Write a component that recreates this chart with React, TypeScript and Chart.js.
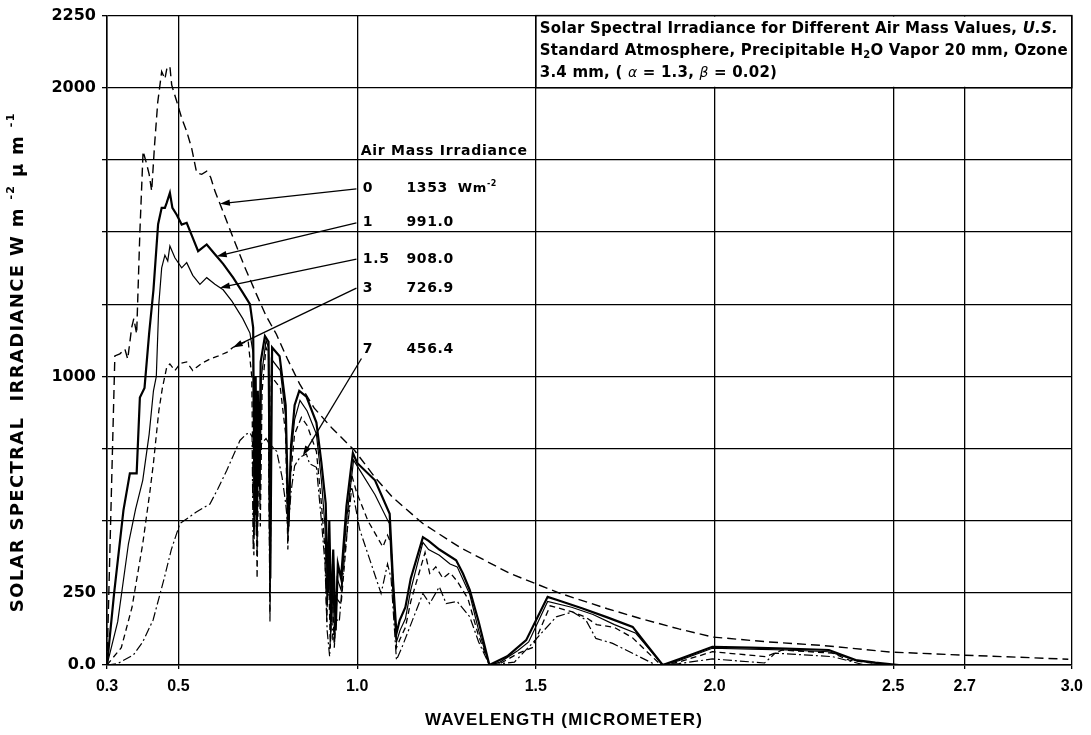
import React, { useEffect, useRef } from "react";
import { Chart, registerables } from "chart.js";

Chart.register(...registerables);

type Pt = [number, number];

// Wavelength (µm) / spectral irradiance (W m^-2 µm^-1) pairs for each air mass
const AM0: Pt[] = [
  [0.3, 0], [0.322, 1071], [0.336, 1078], [0.35, 1095], [0.358, 1060], [0.369, 1169],
  [0.375, 1200], [0.383, 1147], [0.392, 1500], [0.401, 1780], [0.41, 1740], [0.418, 1700],
  [0.425, 1642], [0.433, 1800], [0.442, 1950], [0.453, 2056], [0.462, 2030], [0.468, 2070],
  [0.476, 2074], [0.481, 2010], [0.495, 1953], [0.509, 1895], [0.523, 1849], [0.537, 1790],
  [0.551, 1705], [0.565, 1700], [0.579, 1711], [0.59, 1690], [0.602, 1642], [0.625, 1570],
  [0.653, 1480], [0.685, 1380], [0.718, 1285], [0.745, 1210], [0.774, 1146], [0.805, 1060],
  [0.839, 974], [0.88, 890], [0.93, 820], [0.993, 743], [1.05, 650], [1.1, 580],
  [1.183, 491], [1.287, 408], [1.426, 318], [1.566, 249], [1.7, 195], [1.79, 162],
  [1.9, 125], [1.994, 97], [2.15, 80], [2.3, 68], [2.49, 45], [2.7, 34], [2.85, 27], [2.99, 20],
];

const AM1: Pt[] = [
  [0.3, 0], [0.32, 250], [0.346, 536], [0.364, 664], [0.383, 664], [0.392, 927], [0.405, 960],
  [0.418, 1150], [0.43, 1300], [0.443, 1527], [0.453, 1584], [0.462, 1584], [0.467, 1601],
  [0.476, 1636], [0.483, 1584], [0.495, 1560], [0.509, 1526], [0.523, 1532], [0.54, 1480],
  [0.555, 1434], [0.579, 1457], [0.602, 1423], [0.625, 1390], [0.653, 1342], [0.68, 1290],
  [0.7, 1250], [0.709, 1169], [0.713, 520], [0.716, 1000], [0.719, 450], [0.722, 950],
  [0.726, 620], [0.73, 1050], [0.742, 1140], [0.752, 1120], [0.757, 300], [0.762, 1100],
  [0.783, 1070], [0.8, 900], [0.808, 480], [0.815, 760], [0.825, 900], [0.838, 950],
  [0.858, 930], [0.886, 840], [0.9, 700], [0.912, 560], [0.918, 250], [0.922, 500],
  [0.928, 150], [0.933, 400], [0.94, 120], [0.946, 350], [0.955, 300], [0.97, 550],
  [0.988, 735], [1.0, 700], [1.05, 640], [1.091, 524], [1.1, 300], [1.11, 109], [1.119, 155],
  [1.135, 200], [1.15, 300], [1.184, 443], [1.2, 430], [1.23, 400], [1.277, 363], [1.296, 317],
  [1.315, 260], [1.34, 150], [1.37, 0], [1.42, 30], [1.473, 86], [1.533, 236], [1.56, 225],
  [1.631, 196], [1.7, 165], [1.771, 132], [1.81, 70], [1.855, 0], [1.9, 20], [1.994, 63],
  [2.1, 60], [2.2, 57], [2.32, 52], [2.395, 17], [2.45, 8], [2.516, 0], [3.0, 0],
];

const AM15: Pt[] = [
  [0.3, 0], [0.33, 150], [0.36, 420], [0.38, 540], [0.4, 640], [0.418, 800], [0.43, 950],
  [0.438, 1000], [0.445, 1250], [0.453, 1376], [0.462, 1420], [0.47, 1400], [0.476, 1452],
  [0.49, 1411], [0.509, 1376], [0.523, 1394], [0.54, 1350], [0.56, 1319], [0.579, 1342],
  [0.602, 1319], [0.625, 1300], [0.65, 1260], [0.68, 1200], [0.7, 1150], [0.709, 1080],
  [0.712, 450], [0.716, 950], [0.72, 380], [0.724, 880], [0.728, 560], [0.732, 1000],
  [0.745, 1125], [0.752, 1100], [0.756, 240], [0.76, 1060], [0.785, 1020], [0.8, 860],
  [0.806, 430], [0.814, 720], [0.825, 850], [0.84, 917], [0.86, 880], [0.886, 800],
  [0.9, 640], [0.91, 480], [0.916, 200], [0.921, 420], [0.926, 90], [0.931, 350],
  [0.937, 80], [0.944, 300], [0.955, 260], [0.97, 500], [0.99, 710], [1.0, 690], [1.05, 590],
  [1.09, 490], [1.1, 250], [1.11, 80], [1.12, 120], [1.135, 160], [1.15, 260], [1.184, 425],
  [1.2, 400], [1.23, 380], [1.26, 350], [1.28, 340], [1.315, 245], [1.34, 120], [1.37, 0],
  [1.4, 10], [1.45, 50], [1.48, 80], [1.533, 220], [1.6, 200], [1.66, 175], [1.72, 140],
  [1.78, 110], [1.855, 0], [1.9, 15], [1.994, 58], [2.1, 55], [2.2, 52], [2.32, 46],
  [2.4, 15], [2.49, 0], [3.0, 0],
];

const AM3: Pt[] = [
  [0.3, 0], [0.34, 60], [0.37, 200], [0.4, 420], [0.42, 600], [0.43, 700], [0.445, 880],
  [0.455, 960], [0.467, 1031], [0.476, 1043], [0.49, 1020], [0.505, 1045], [0.523, 1050],
  [0.54, 1020], [0.55, 1031], [0.565, 1045], [0.588, 1060], [0.61, 1070], [0.635, 1083],
  [0.652, 1100], [0.672, 1112], [0.695, 1123], [0.705, 1000], [0.711, 380], [0.716, 850],
  [0.72, 300], [0.725, 780], [0.729, 480], [0.734, 950], [0.745, 1100], [0.752, 1080],
  [0.756, 180], [0.76, 1000], [0.785, 960], [0.8, 800], [0.806, 400], [0.813, 650],
  [0.825, 800], [0.844, 858], [0.86, 830], [0.886, 740], [0.9, 560], [0.91, 400],
  [0.915, 150], [0.92, 330], [0.925, 60], [0.93, 280], [0.936, 60], [0.943, 230],
  [0.955, 210], [0.97, 430], [0.984, 662], [0.998, 600], [1.03, 500], [1.072, 409],
  [1.085, 450], [1.095, 420], [1.105, 180], [1.11, 60], [1.12, 90], [1.135, 130], [1.15, 220],
  [1.19, 390], [1.203, 317], [1.22, 340], [1.24, 300], [1.26, 320], [1.28, 290], [1.31, 230],
  [1.34, 100], [1.37, 0], [1.4, 5], [1.45, 40], [1.49, 60], [1.54, 205], [1.6, 185],
  [1.64, 165], [1.67, 140], [1.72, 130], [1.77, 95], [1.85, 0], [1.9, 10], [1.994, 46],
  [2.143, 29], [2.19, 52], [2.33, 41], [2.377, 17], [2.48, 0], [3.0, 0],
];

const AM7: Pt[] = [
  [0.3, 0], [0.33, 5], [0.374, 35], [0.4, 80], [0.429, 156], [0.46, 300], [0.48, 400],
  [0.504, 490], [0.55, 530], [0.588, 558], [0.61, 610], [0.635, 674], [0.672, 778],
  [0.69, 800], [0.7, 805], [0.706, 790], [0.709, 397], [0.714, 700], [0.718, 478],
  [0.722, 680], [0.728, 760], [0.745, 785], [0.752, 770], [0.756, 150], [0.76, 760],
  [0.775, 740], [0.79, 650], [0.8, 560], [0.807, 467], [0.815, 600], [0.825, 690],
  [0.84, 720], [0.858, 731], [0.867, 697], [0.886, 685], [0.9, 500], [0.91, 350],
  [0.916, 120], [0.923, 29], [0.928, 200], [0.932, 86], [0.94, 160], [0.95, 150],
  [0.965, 380], [0.985, 617], [1.007, 470], [1.067, 248], [1.085, 350], [1.095, 300],
  [1.11, 17], [1.125, 60], [1.15, 140], [1.184, 248], [1.203, 213], [1.23, 271],
  [1.249, 213], [1.28, 220], [1.315, 167], [1.34, 80], [1.37, 0], [1.44, 10], [1.49, 75],
  [1.557, 167], [1.603, 184], [1.64, 156], [1.668, 92], [1.715, 75], [1.836, 0], [1.9, 5],
  [1.994, 21], [2.14, 7], [2.17, 41], [2.33, 29], [2.42, 0], [3.0, 0],
];

const X_TICKS = [0.3, 0.5, 1.0, 1.5, 2.0, 2.5, 2.7, 3.0];
const Y_LABELED_TICKS = [0, 250, 1000, 2000, 2250];

// Air-mass table: labels, stated irradiance, row height and where each leader arrow lands
const AIR_MASS_LABELS = ["0", "1", "1.5", "3", "7"];
const IRRADIANCE_LABELS = ["1353", "991.0", "908.0", "726.9", "456.4"];
const ROW_Y = [1650, 1532, 1406, 1306, 1095];
const LEADER_START_Y = [1650, 1532, 1406, 1306, 1062];
const LEADER_START_X = [0.998, 0.998, 0.998, 0.998, 1.012];
const ARROW_TIP_X = [0.616, 0.607, 0.616, 0.652, 0.848];

const DV = '"DejaVu Sans", "Liberation Sans", Arial, sans-serif';
const SANS = '"Liberation Sans", Arial, Helvetica, sans-serif';

const SERIES: { data: Pt[]; width: number; dash: number[] }[] = [
  { data: AM0, width: 1.4, dash: [9, 5] },
  { data: AM1, width: 2.2, dash: [] },
  { data: AM15, width: 1.2, dash: [] },
  { data: AM3, width: 1.3, dash: [6, 4] },
  { data: AM7, width: 1.2, dash: [9, 3, 2, 3] },
];

function valueAt(series: Pt[], x: number): number {
  for (let i = 1; i < series.length; i++) {
    const [x0, y0] = series[i - 1];
    const [x1, y1] = series[i];
    if (x >= x0 && x <= x1) return y0 + ((y1 - y0) * (x - x0)) / (x1 - x0);
  }
  return 0;
}

type Run = { text: string; font: string; dy?: number };

function runsWidth(ctx: CanvasRenderingContext2D, runs: Run[]): number {
  let w = 0;
  for (const r of runs) {
    ctx.font = r.font;
    w += ctx.measureText(r.text).width;
  }
  return w;
}

function runsChars(runs: Run[]): number {
  return runs.reduce((n, r) => n + r.text.length, 0);
}

// Letter spacing that makes a line of runs span the given width
function spacingFor(ctx: CanvasRenderingContext2D, runs: Run[], width: number): number {
  (ctx as any).letterSpacing = "0px";
  return (width - runsWidth(ctx, runs)) / runsChars(runs);
}

function drawRuns(ctx: CanvasRenderingContext2D, runs: Run[], x: number, y: number): number {
  let cx = x;
  for (const r of runs) {
    ctx.font = r.font;
    ctx.fillText(r.text, cx, y + (r.dy || 0));
    cx += ctx.measureText(r.text).width;
  }
  return cx;
}

function arrow(ctx: CanvasRenderingContext2D, x0: number, y0: number, x1: number, y1: number) {
  const ang = Math.atan2(y1 - y0, x1 - x0);
  const len = 10;
  const half = 3.2;
  ctx.beginPath();
  ctx.moveTo(x0, y0);
  ctx.lineTo(x1 - Math.cos(ang) * len * 0.6, y1 - Math.sin(ang) * len * 0.6);
  ctx.stroke();
  ctx.beginPath();
  ctx.moveTo(x1, y1);
  ctx.lineTo(x1 - Math.cos(ang) * len - Math.sin(ang) * half, y1 - Math.sin(ang) * len + Math.cos(ang) * half);
  ctx.lineTo(x1 - Math.cos(ang) * len + Math.sin(ang) * half, y1 - Math.sin(ang) * len - Math.cos(ang) * half);
  ctx.closePath();
  ctx.fill();
}

const notesPlugin = {
  id: "airMassNotes",
  afterDraw(chart: any) {
    const { ctx, chartArea } = chart;
    const xs = chart.scales.x;
    const ys = chart.scales.y;
    ctx.save();
    ctx.fillStyle = "#000";
    ctx.strokeStyle = "#000";

    // Caption box in the upper right grid cell
    const bx0 = xs.getPixelForValue(1.5);
    const bx1 = xs.getPixelForValue(3.0);
    const by0 = ys.getPixelForValue(2250);
    const by1 = ys.getPixelForValue(2000);
    ctx.fillStyle = "#fff";
    ctx.fillRect(bx0 + 1, by0 + 1, bx1 - bx0 - 2, by1 - by0 - 2);
    ctx.lineWidth = 1.4;
    ctx.strokeRect(bx0, by0, bx1 - bx0, by1 - by0);
    ctx.fillStyle = "#000";
    ctx.textBaseline = "middle";
    ctx.textAlign = "left";
    const cb = `bold 15px ${DV}`;
    const ci = `italic bold 15px ${DV}`;
    const gi = `italic 14px ${DV}`;
    const tx = bx0 + 4;
    const line1: Run[] = [
      { text: "Solar Spectral Irradiance for Different Air Mass Values, ", font: cb },
      { text: "U.S.", font: ci },
    ];
    const line2: Run[] = [
      { text: "Standard Atmosphere, Precipitable H", font: cb },
      { text: "2", font: `bold 10px ${DV}`, dy: 4 },
      { text: "O Vapor 20 mm, Ozone", font: cb },
    ];
    const line3: Run[] = [
      { text: "3.4 mm, ( ", font: cb },
      { text: "\u03b1", font: gi },
      { text: " = 1.3, ", font: cb },
      { text: "\u03b2", font: gi },
      { text: " = 0.02)", font: cb },
    ];
    const capSpacing = spacingFor(ctx, line2, bx1 - bx0 - 8);
    (ctx as any).letterSpacing = `${capSpacing}px`;
    drawRuns(ctx, line1, tx, by0 + 14);
    drawRuns(ctx, line2, tx, by0 + 36);
    drawRuns(ctx, line3, tx, by0 + 58);
    (ctx as any).letterSpacing = "0px";

    // Air mass / irradiance table
    const colMass = xs.getPixelForValue(1.016);
    const colIrr = xs.getPixelForValue(1.138);
    const tb = `bold 14px ${DV}`;
    const head: Run[] = [{ text: "Air Mass Irradiance", font: `bold 14px ${DV}` }];
    (ctx as any).letterSpacing = `${spacingFor(ctx, head, 167)}px`;
    drawRuns(ctx, head, xs.getPixelForValue(1.01), ys.getPixelForValue(1780));
    (ctx as any).letterSpacing = "0.6px";
    AIR_MASS_LABELS.forEach((m, i) => {
      const py = ys.getPixelForValue(ROW_Y[i]);
      ctx.font = tb;
      ctx.fillText(m, colMass, py);
      const end = drawRuns(ctx, [{ text: IRRADIANCE_LABELS[i], font: tb }], colIrr, py);
      if (i === 0) {
        drawRuns(ctx, [
          { text: "Wm", font: `bold 13px ${DV}` },
          { text: "-2", font: `bold 8px ${DV}`, dy: -5 },
        ], end + 10, py);
      }
      const series = SERIES[i].data;
      const tipX = ARROW_TIP_X[i];
      ctx.lineWidth = 1.3;
      arrow(
        ctx,
        xs.getPixelForValue(LEADER_START_X[i]),
        ys.getPixelForValue(LEADER_START_Y[i]),
        xs.getPixelForValue(tipX),
        ys.getPixelForValue(valueAt(series, tipX)),
      );
    });
    (ctx as any).letterSpacing = "0px";

    // Axis titles
    ctx.textBaseline = "middle";
    const tf = `bold 18px ${DV}`;
    const ts = `bold 11px ${DV}`;
    const yRuns: Run[] = [
      { text: "SOLAR SPECTRAL  IRRADIANCE W m ", font: tf },
      { text: "-2", font: ts, dy: -7 },
      { text: " \u00b5 m ", font: tf },
      { text: "-1", font: ts, dy: -7 },
    ];
    (ctx as any).letterSpacing = `${spacingFor(ctx, yRuns, 500)}px`;
    const yw = runsWidth(ctx, yRuns);
    ctx.save();
    ctx.translate(18, (chartArea.top + chartArea.bottom) / 2 + 22);
    ctx.rotate(-Math.PI / 2);
    drawRuns(ctx, yRuns, -yw / 2, 0);
    ctx.restore();

    const xRuns: Run[] = [{ text: "WAVELENGTH (MICROMETER)", font: `bold 17px ${SANS}` }];
    (ctx as any).letterSpacing = `${spacingFor(ctx, xRuns, 278)}px`;
    drawRuns(ctx, xRuns, 425, 720);
    (ctx as any).letterSpacing = "0px";
    ctx.restore();
  },
};

export default function App() {
  const canvasRef = useRef<HTMLCanvasElement | null>(null);

  useEffect(() => {
    document.body.style.margin = "0";
    const canvas = canvasRef.current;
    if (!canvas) return;
    const chart = new Chart(canvas, {
      type: "line",
      data: {
        datasets: SERIES.map((s, i) => ({
          label: `AM ${AIR_MASS_LABELS[i]}`,
          data: s.data.map(([x, y]) => ({ x, y })),
          borderColor: "#000",
          borderWidth: s.width,
          borderDash: s.dash,
          pointRadius: 0,
          fill: false,
          tension: 0,
        })),
      },
      options: {
        responsive: false,
        animation: false,
        devicePixelRatio: 1,
        layout: { padding: { left: 0, right: 18, top: 14, bottom: 0 } },
        plugins: { legend: { display: false }, tooltip: { enabled: false } },
        scales: {
          x: {
            type: "linear",
            min: 0.3,
            max: 3.0,
            afterBuildTicks: (scale: any) => {
              scale.ticks = X_TICKS.map((value) => ({ value }));
            },
            afterFit: (scale: any) => {
              scale.height = 70;
            },
            ticks: {
              autoSkip: false,
              maxRotation: 0,
              padding: 8,
              color: "#000",
              font: { family: SANS, size: 16, weight: "bold" },
              callback: (v: any) => Number(v).toFixed(1),
            },
            grid: { color: "#000", lineWidth: 1.3, tickLength: 4 },
            border: { color: "#000", width: 1.5 },
          },
          y: {
            min: 0,
            max: 2250,
            afterFit: (scale: any) => {
              scale.width = 107;
            },
            ticks: {
              stepSize: 250,
              autoSkip: false,
              padding: 6,
              color: "#000",
              font: { family: DV, size: 16, weight: "bold" },
              callback: (v: any) =>
                Y_LABELED_TICKS.includes(Number(v)) ? (Number(v) === 0 ? "0.0" : String(v)) : "",
            },
            grid: { color: "#000", lineWidth: 1.3, tickLength: 5 },
            border: { color: "#000", width: 1.5 },
          },
        },
      },
      plugins: [notesPlugin],
    });
    return () => chart.destroy();
  }, []);

  return (
    <div style={{ width: 1091, height: 735, background: "#fff" }}>
      <canvas ref={canvasRef} width={1091} height={735} style={{ display: "block" }} />
    </div>
  );
}
